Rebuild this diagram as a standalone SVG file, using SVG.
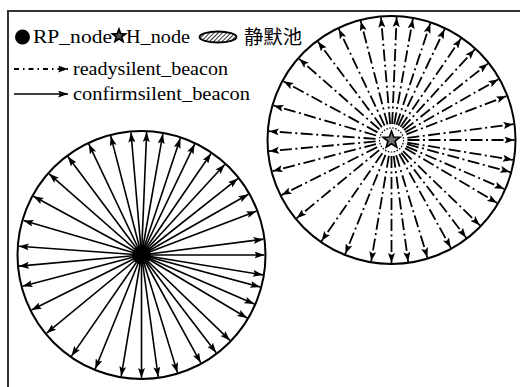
<svg xmlns="http://www.w3.org/2000/svg" xmlns:xlink="http://www.w3.org/1999/xlink" width="520" height="387" viewBox="0 0 520 387">
<style>
.t{font-family:"Liberation Serif","Noto Sans CJK SC",serif;font-size:18px;fill:#000}
.cjk{font-family:"Noto Sans CJK SC","Liberation Serif",serif;font-size:19px;fill:#000}
.ring{fill:none;stroke:#000;stroke-width:2}
.solid{stroke:#000;stroke-width:1.6;fill:none;marker-end:url(#ah)}
.dash{stroke:#000;stroke-width:1.8;fill:none;stroke-dasharray:12 3.5 2 3.5;marker-end:url(#ah)}
.frame{stroke:#333;stroke-width:2;fill:none}
</style>
<defs>
<marker id="ah" viewBox="0 0 10 7" markerWidth="10" markerHeight="7" refX="10" refY="3.5" orient="auto" markerUnits="userSpaceOnUse">
<path d="M0,0 L10,3.5 L0,7 L2,3.5 z" fill="#000"/>
</marker>
<pattern id="hatch" patternUnits="userSpaceOnUse" width="3" height="3" patternTransform="rotate(45)">
<rect width="3" height="3" fill="#fff"/>
<line x1="0" y1="0" x2="0" y2="3" stroke="#000" stroke-width="1.6"/>
</pattern>
<path id="star" d="M0,-9 L2.23,-3.07 L8.56,-2.78 L3.61,1.17 L5.29,7.28 L0,3.8 L-5.29,7.28 L-3.61,1.17 L-8.56,-2.78 L-2.23,-3.07 Z"/>
</defs>
<rect width="520" height="387" fill="#fff"/>
<path class="frame" d="M8,387 L8,11 L520,11"/>

<g id="legend">
<circle cx="22.5" cy="37" r="7.5" fill="#000"/>
<text class="t" x="33" y="43" textLength="79" lengthAdjust="spacingAndGlyphs">RP_node</text>
<use xlink:href="#star" transform="translate(119,36) scale(0.75)" fill="#555" stroke="#000" stroke-width="2.4"/>
<text class="t" x="126" y="43" textLength="64" lengthAdjust="spacingAndGlyphs">H_node</text>
<ellipse cx="218" cy="37" rx="18.5" ry="5.5" fill="url(#hatch)" stroke="#000" stroke-width="1.8"/>
<text class="cjk" x="244" y="44" textLength="58" lengthAdjust="spacingAndGlyphs">静默池</text>
<line x1="14" y1="69" x2="68" y2="69" stroke="#000" stroke-width="1.8" stroke-dasharray="5 4 1.5 4" marker-end="url(#ah)"/>
<text class="t" x="73" y="75" textLength="155" lengthAdjust="spacingAndGlyphs">readysilent_beacon</text>
<line x1="14" y1="94" x2="68" y2="94" stroke="#000" stroke-width="1.6" marker-end="url(#ah)"/>
<text class="t" x="73" y="100" textLength="177" lengthAdjust="spacingAndGlyphs">confirmsilent_beacon</text>
</g>

<g id="rp-region"><circle class="ring" cx="141.5" cy="255" r="124"/></g>
<g id="h-region"><circle class="ring" cx="391.5" cy="140" r="124"/></g>

<g id="connectors">
<g id="confirm-arrows" transform="translate(141.5,255)">
<line class="solid" x1="0" y1="0" x2="123" y2="0" transform="rotate(-87.6)"/>
<line class="solid" x1="0" y1="0" x2="123" y2="0" transform="rotate(-80)"/>
<line class="solid" x1="0" y1="0" x2="123" y2="0" transform="rotate(-71.6)"/>
<line class="solid" x1="0" y1="0" x2="123" y2="0" transform="rotate(-64.4)"/>
<line class="solid" x1="0" y1="0" x2="123" y2="0" transform="rotate(-55.6)"/>
<line class="solid" x1="0" y1="0" x2="123" y2="0" transform="rotate(-47.4)"/>
<line class="solid" x1="0" y1="0" x2="123" y2="0" transform="rotate(-38.4)"/>
<line class="solid" x1="0" y1="0" x2="123" y2="0" transform="rotate(-29.6)"/>
<line class="solid" x1="0" y1="0" x2="123" y2="0" transform="rotate(-20.9)"/>
<line class="solid" x1="0" y1="0" x2="123" y2="0" transform="rotate(-7.4)"/>
<line class="solid" x1="0" y1="0" x2="123" y2="0" transform="rotate(0)"/>
<line class="solid" x1="0" y1="0" x2="123" y2="0" transform="rotate(9.3)"/>
<line class="solid" x1="0" y1="0" x2="123" y2="0" transform="rotate(15.1)"/>
<line class="solid" x1="0" y1="0" x2="123" y2="0" transform="rotate(23.5)"/>
<line class="solid" x1="0" y1="0" x2="123" y2="0" transform="rotate(30.8)"/>
<line class="solid" x1="0" y1="0" x2="123" y2="0" transform="rotate(44)"/>
<line class="solid" x1="0" y1="0" x2="123" y2="0" transform="rotate(52.6)"/>
<line class="solid" x1="0" y1="0" x2="123" y2="0" transform="rotate(61.2)"/>
<line class="solid" x1="0" y1="0" x2="123" y2="0" transform="rotate(73)"/>
<line class="solid" x1="0" y1="0" x2="123" y2="0" transform="rotate(82.2)"/>
<line class="solid" x1="0" y1="0" x2="123" y2="0" transform="rotate(90)"/>
<line class="solid" x1="0" y1="0" x2="123" y2="0" transform="rotate(99.5)"/>
<line class="solid" x1="0" y1="0" x2="123" y2="0" transform="rotate(112.1)"/>
<line class="solid" x1="0" y1="0" x2="123" y2="0" transform="rotate(124.7)"/>
<line class="solid" x1="0" y1="0" x2="123" y2="0" transform="rotate(140.5)"/>
<line class="solid" x1="0" y1="0" x2="123" y2="0" transform="rotate(153.4)"/>
<line class="solid" x1="0" y1="0" x2="123" y2="0" transform="rotate(165.3)"/>
<line class="solid" x1="0" y1="0" x2="123" y2="0" transform="rotate(174.8)"/>
<line class="solid" x1="0" y1="0" x2="123" y2="0" transform="rotate(184.1)"/>
<line class="solid" x1="0" y1="0" x2="123" y2="0" transform="rotate(196.3)"/>
<line class="solid" x1="0" y1="0" x2="123" y2="0" transform="rotate(208.5)"/>
<line class="solid" x1="0" y1="0" x2="123" y2="0" transform="rotate(221.3)"/>
<line class="solid" x1="0" y1="0" x2="123" y2="0" transform="rotate(233.2)"/>
<line class="solid" x1="0" y1="0" x2="123" y2="0" transform="rotate(244.6)"/>
<line class="solid" x1="0" y1="0" x2="123" y2="0" transform="rotate(255.5)"/>
<line class="solid" x1="0" y1="0" x2="123" y2="0" transform="rotate(265.1)"/>
</g>
<g id="ready-arrows" transform="translate(391.5,140)">
<line class="dash" x1="16" y1="0" x2="123" y2="0" transform="rotate(-87.6)"/>
<line class="dash" x1="16" y1="0" x2="123" y2="0" transform="rotate(-80)"/>
<line class="dash" x1="16" y1="0" x2="123" y2="0" transform="rotate(-71.6)"/>
<line class="dash" x1="16" y1="0" x2="123" y2="0" transform="rotate(-64.4)"/>
<line class="dash" x1="16" y1="0" x2="123" y2="0" transform="rotate(-55.6)"/>
<line class="dash" x1="16" y1="0" x2="123" y2="0" transform="rotate(-47.4)"/>
<line class="dash" x1="16" y1="0" x2="123" y2="0" transform="rotate(-38.4)"/>
<line class="dash" x1="16" y1="0" x2="123" y2="0" transform="rotate(-29.6)"/>
<line class="dash" x1="16" y1="0" x2="123" y2="0" transform="rotate(-20.9)"/>
<line class="dash" x1="16" y1="0" x2="123" y2="0" transform="rotate(-7.4)"/>
<line class="dash" x1="16" y1="0" x2="123" y2="0" transform="rotate(0)"/>
<line class="dash" x1="16" y1="0" x2="123" y2="0" transform="rotate(9.3)"/>
<line class="dash" x1="16" y1="0" x2="123" y2="0" transform="rotate(15.1)"/>
<line class="dash" x1="16" y1="0" x2="123" y2="0" transform="rotate(23.5)"/>
<line class="dash" x1="16" y1="0" x2="123" y2="0" transform="rotate(30.8)"/>
<line class="dash" x1="16" y1="0" x2="123" y2="0" transform="rotate(44)"/>
<line class="dash" x1="16" y1="0" x2="123" y2="0" transform="rotate(52.6)"/>
<line class="dash" x1="16" y1="0" x2="123" y2="0" transform="rotate(61.2)"/>
<line class="dash" x1="16" y1="0" x2="123" y2="0" transform="rotate(73)"/>
<line class="dash" x1="16" y1="0" x2="123" y2="0" transform="rotate(82.2)"/>
<line class="dash" x1="16" y1="0" x2="123" y2="0" transform="rotate(90)"/>
<line class="dash" x1="16" y1="0" x2="123" y2="0" transform="rotate(99.5)"/>
<line class="dash" x1="16" y1="0" x2="123" y2="0" transform="rotate(112.1)"/>
<line class="dash" x1="16" y1="0" x2="123" y2="0" transform="rotate(124.7)"/>
<line class="dash" x1="16" y1="0" x2="123" y2="0" transform="rotate(140.5)"/>
<line class="dash" x1="16" y1="0" x2="123" y2="0" transform="rotate(153.4)"/>
<line class="dash" x1="16" y1="0" x2="123" y2="0" transform="rotate(165.3)"/>
<line class="dash" x1="16" y1="0" x2="123" y2="0" transform="rotate(174.8)"/>
<line class="dash" x1="16" y1="0" x2="123" y2="0" transform="rotate(184.1)"/>
<line class="dash" x1="16" y1="0" x2="123" y2="0" transform="rotate(196.3)"/>
<line class="dash" x1="16" y1="0" x2="123" y2="0" transform="rotate(208.5)"/>
<line class="dash" x1="16" y1="0" x2="123" y2="0" transform="rotate(221.3)"/>
<line class="dash" x1="16" y1="0" x2="123" y2="0" transform="rotate(233.2)"/>
<line class="dash" x1="16" y1="0" x2="123" y2="0" transform="rotate(244.6)"/>
<line class="dash" x1="16" y1="0" x2="123" y2="0" transform="rotate(255.5)"/>
<line class="dash" x1="16" y1="0" x2="123" y2="0" transform="rotate(265.1)"/>
</g>
</g>

<g id="rp-node"><circle cx="141.5" cy="255" r="9.5" fill="#000"/></g>
<g id="h-node">
<circle cx="391.5" cy="140" r="12" fill="#fff" stroke="#000" stroke-width="1.2" stroke-dasharray="1.5 1.5"/>
<use xlink:href="#star" transform="translate(391.5,140)" fill="#707070" stroke="#000" stroke-width="1.6"/>
</g>
</svg>
